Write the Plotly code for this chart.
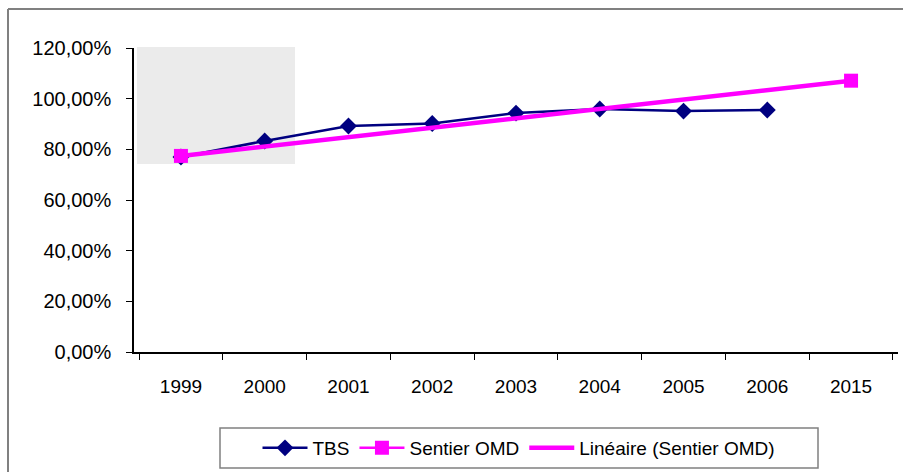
import numpy as np
import plotly.graph_objects as go

categories = ["1999", "2000", "2001", "2002", "2003", "2004", "2005", "2006", "2015"]
tbs = [0.77, 0.833, 0.892, 0.902, 0.943, 0.959, 0.951, 0.955, None]
sentier_omd = [0.774, None, None, None, None, None, None, None, 1.071]
y_tickvals = [0, 0.2, 0.4, 0.6, 0.8, 1.0, 1.2]
y_ticktext = ["0,00%", "20,00%", "40,00%", "60,00%", "80,00%", "100,00%", "120,00%"]

# linear trend of Sentier OMD over category index (as Excel does)
idx = np.arange(1, len(categories) + 1)
known = [(i, v) for i, v in zip(idx, sentier_omd) if v is not None]
slope, intercept = np.polyfit([k[0] for k in known], [k[1] for k in known], 1)
trend = [slope * i + intercept for i in idx]

fig = go.Figure()
fig.add_trace(go.Scatter(
    x=categories, y=tbs, name="TBS", mode="lines+markers",
    line=dict(color="#000080", width=2.5),
    marker=dict(symbol="diamond", size=13, color="#000080"),
))
fig.add_trace(go.Scatter(
    x=categories, y=sentier_omd, name="Sentier OMD", mode="lines+markers",
    connectgaps=True,
    line=dict(color="#FF00FF", width=2.5),
    marker=dict(symbol="square", size=14, color="#FF00FF"),
))
fig.add_trace(go.Scatter(
    x=categories, y=trend, name="Linéaire (Sentier OMD)", mode="lines",
    line=dict(color="#FF00FF", width=4.5),
))

L, R, T, B = 134, 5, 48, 120
W, H = 903, 472
pw, ph = W - L - R, H - T - B

def px_x(p):
    return (p - L) / pw

def px_y(p):
    return (H - B - p) / ph

shapes = [
    # textured picture placeholder
    dict(type="rect", xref="paper", yref="paper", layer="below",
         x0=px_x(137), x1=px_x(295), y0=px_y(164), y1=px_y(47),
         fillcolor="#ebebeb", line=dict(width=0)),
    # outer chart frame (left and top visible)
    dict(type="line", xref="paper", yref="paper",
         x0=px_x(8), x1=px_x(8), y0=px_y(9), y1=px_y(475),
         line=dict(color="#808080", width=2)),
    dict(type="line", xref="paper", yref="paper",
         x0=px_x(8), x1=px_x(905), y0=px_y(9), y1=px_y(9),
         line=dict(color="#808080", width=2)),
    # legend frame
    dict(type="rect", xref="paper", yref="paper",
         x0=px_x(220), x1=px_x(818), y0=px_y(468), y1=px_y(428),
         line=dict(color="#808080", width=1.5), fillcolor="rgba(0,0,0,0)"),
]

fig.update_layout(
    width=W, height=H,
    margin=dict(l=L, r=R, t=T, b=B, pad=0, autoexpand=False),
    paper_bgcolor="white", plot_bgcolor="white",
    font=dict(family="Liberation Sans, Arial, sans-serif", size=19, color="black"),
    showlegend=True,
    legend=dict(
        orientation="h", xanchor="center", yanchor="middle",
        x=px_x(519), y=px_y(448),
        borderwidth=0,
        font=dict(size=19), itemwidth=45, tracegroupgap=0,
        bgcolor="rgba(0,0,0,0)",
    ),
    shapes=shapes,
)
fig.update_xaxes(
    type="category", showgrid=False, showline=True, linecolor="black", linewidth=1.5,
    ticks="outside", tickson="boundaries", ticklen=6, tickcolor="black",
    ticklabelstandoff=16, zeroline=False, automargin=False,
)
fig.update_yaxes(
    range=[0, 1.2], showgrid=False, showline=True, linecolor="black", linewidth=1.5,
    ticks="outside", ticklen=6, tickcolor="black",
    tickvals=y_tickvals, ticktext=y_ticktext, ticklabelstandoff=11, zeroline=False,
    automargin=False, tickfont=dict(size=20),
)

fig.write_html(
    "out.html",
    config={"displayModeBar": False},
    post_script="document.body.style.margin='0px';document.body.style.overflow='hidden';",
)
